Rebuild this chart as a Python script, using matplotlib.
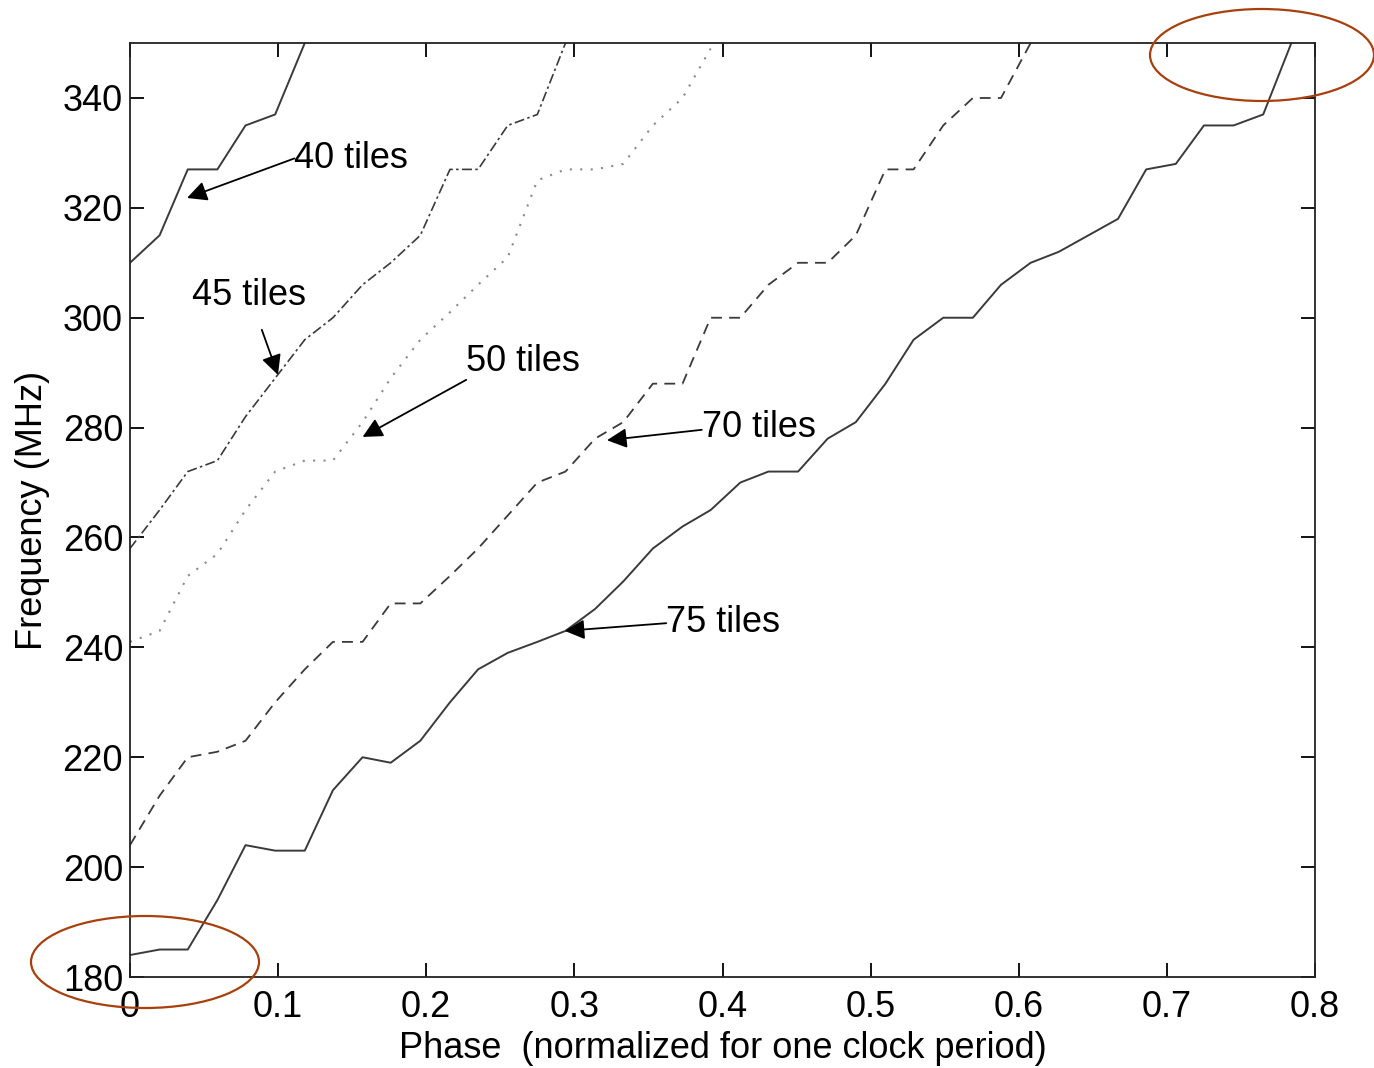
import matplotlib.pyplot as plt
from matplotlib.patches import Ellipse

plt.rcParams['font.family'] = ['Liberation Sans', 'DejaVu Sans']

# phase grid (normalized to one clock period)
phase = [0, 0.02, 0.039, 0.059, 0.078, 0.098, 0.118, 0.137, 0.157, 0.176,
         0.196, 0.216, 0.235, 0.255, 0.275, 0.294, 0.314, 0.333, 0.353, 0.373,
         0.392, 0.412, 0.431, 0.451, 0.471, 0.490, 0.510, 0.529, 0.549, 0.569,
         0.588, 0.608, 0.627, 0.647, 0.667, 0.686, 0.706, 0.725, 0.745, 0.765,
         0.784]

f40 = [310, 315, 327, 327, 335, 337, 350]
f45 = [258, 265, 272, 274, 282, 289, 296, 300, 306, 310, 315, 327, 327, 335,
       337, 350]
f50 = [241, 243, 253, 257, 265, 272, 274, 274, 281, 289, 296, 301, 306, 311,
       325, 327, 327, 328, 335, 340, 349]
f70 = [204, 213, 220, 221, 223, 230, 236, 241, 241, 248, 248, 253, 258, 264,
       270, 272, 278, 281, 288, 288, 300, 300, 306, 310, 310, 315, 327, 327,
       335, 340, 340, 350]
f75 = [184, 185, 185, 194, 204, 203, 203, 214, 220, 219, 223, 230, 236, 239,
       241, 243, 247, 252, 258, 262, 265, 270, 272, 272, 278, 281, 288, 296,
       300, 300, 306, 310, 312, 315, 318, 327, 328, 335, 335, 337, 350]

# label text, text position, arrow tip
labels = ['40 tiles', '45 tiles', '50 tiles', '70 tiles', '75 tiles']
text_xy = [(0.111, 329), (0.042, 304), (0.227, 292), (0.386, 280), (0.362, 244.6)]
tip_xy = [(0.0385, 321.8), (0.0999, 289.6), (0.157, 278.3), (0.322, 277.7), (0.2935, 243.0)]
tail_xy = [(0.111, 329), (0.089, 297.8), (0.227, 288.7), (0.386, 279.6), (0.362, 244.4)]

fs = 26

fig = plt.figure(figsize=(13.74, 10.68), dpi=100)
ax = fig.add_axes([0.0946, 0.0852, 0.8625, 0.8745])

lc = '#3a3a3a'
ax.plot(phase[:len(f40)], f40, color=lc, lw=1.4, ls='-')
ax.plot(phase[:len(f45)], f45, color=lc, lw=1.2, ls=(0, (6, 2, 1.5, 2)))
ax.plot(phase[:len(f50)], f50, color='#8a8a8a', lw=1.5, ls=(0, (1, 4)))
ax.plot(phase[:len(f70)], f70, color=lc, lw=1.3, ls=(0, (6, 4)))
ax.plot(phase[:len(f75)], f75, color=lc, lw=1.4, ls='-')

ax.set_xlim(0, 0.8)
ax.set_ylim(180, 350)
ax.set_xticks([0, 0.1, 0.2, 0.3, 0.4, 0.5, 0.6, 0.7, 0.8])
ax.set_xticklabels(['0', '0.1', '0.2', '0.3', '0.4', '0.5', '0.6', '0.7', '0.8'])
ax.set_yticks(range(180, 341, 20))
ax.tick_params(direction='in', length=10, width=1.3, top=True, right=True,
               labelsize=fs)
ax.tick_params(axis='x', pad=9)
ax.tick_params(axis='y', pad=5)
for s in ax.spines.values():
    s.set_linewidth(1.3)
    s.set_color('#222222')

ax.set_xlabel('Phase  (normalized for one clock period)', fontsize=fs, labelpad=5)
ax.set_ylabel('Frequency (MHz)', fontsize=fs, labelpad=9)

# arrows with labels
for lab, txy, tip, tail in zip(labels, text_xy, tip_xy, tail_xy):
    ax.annotate('', xy=tip, xytext=tail,
                arrowprops=dict(arrowstyle='-|>', color='black', lw=1.3,
                                mutation_scale=30, shrinkA=0, shrinkB=0))
    ax.text(txy[0], txy[1], lab, fontsize=fs, ha='left', va='center')

# highlight ellipses
red = '#a8400e'
for cx, cy, w, h in [(145, 962, 228, 92), (1262, 55, 224, 92)]:
    fig.patches.append(Ellipse((cx / 1374, 1 - cy / 1068), w / 1374, h / 1068,
                               transform=fig.transFigure, fill=False,
                               edgecolor=red, lw=1.6))

plt.savefig('out.png', dpi=100)
